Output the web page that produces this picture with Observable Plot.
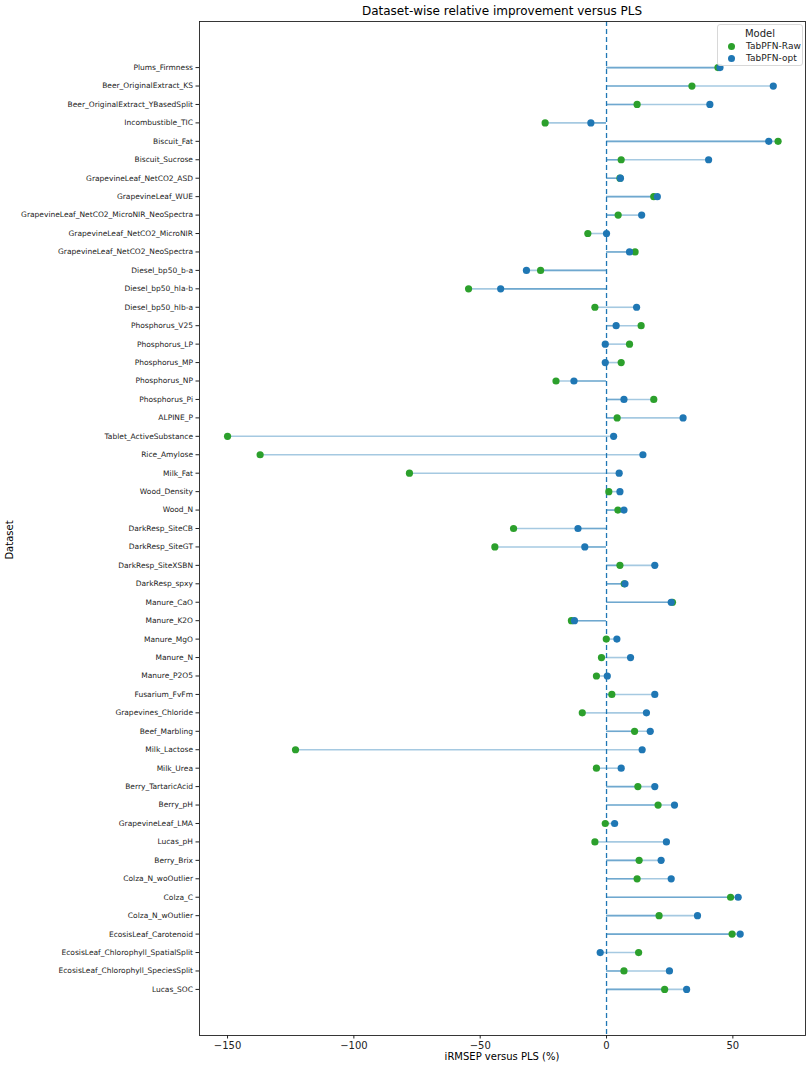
<!DOCTYPE html>
<html>
<head>
<meta charset="utf-8">
<script src="https://cdn.jsdelivr.net/npm/d3@7"></script>
<script src="https://cdn.jsdelivr.net/npm/@observablehq/plot@0.6"></script>
<style>
  html, body { margin: 0; padding: 0; background: #fff; font-family: "DejaVu Sans", sans-serif; overflow: hidden; }
  #wrap { position: relative; width: 812px; height: 1071px; }
  #chart svg { display: block; max-width: none; }
  #title { position: absolute; left: 199px; width: 606px; top: 4px; text-align: center; font-size: 12px; color: #000; }
  #legend { position: absolute; left: 717px; top: 24px; width: 84px; height: 40px; border: 1px solid #d8d8d8; border-radius: 3px; background: rgba(255,255,255,0.85); font-size: 9px; color: #222; }
  #legend .t { position: absolute; top: 3px; width: 100%; text-align: center; font-size: 10px; }
  #legend .e { position: absolute; left: 28px; }
  #legend .d { position: absolute; left: 10px; width: 7px; height: 7px; border-radius: 50%; }
  #ylab { position: absolute; top: 540px; transform: translate(0,-50%) rotate(-90deg); transform-origin: center; font-size: 10px; }
  #xlab { position: absolute; left: 199px; width: 606px; top: 1051px; text-align: center; font-size: 10px; }
</style>
</head>
<body>
<div id="wrap">
  <div id="chart"></div>
  <div id="title">Dataset-wise relative improvement versus PLS</div>
  <div id="xlab">iRMSEP versus PLS (%)</div>
  <div id="ylab" style="left:-10px;">Dataset</div>
  <div id="legend">
    <div class="t">Model</div>
    <div class="d" style="top:18px;background:#2ca02c"></div><div class="e" style="top:16px">TabPFN-Raw</div>
    <div class="d" style="top:30px;background:#1f77b4"></div><div class="e" style="top:28px">TabPFN-opt</div>
  </div>
</div>
<script>
const datasets = [
  "Plums_Firmness","Beer_OriginalExtract_KS","Beer_OriginalExtract_YBasedSplit","Incombustible_TIC",
  "Biscuit_Fat","Biscuit_Sucrose","GrapevineLeaf_NetCO2_ASD","GrapevineLeaf_WUE",
  "GrapevineLeaf_NetCO2_MicroNIR_NeoSpectra","GrapevineLeaf_NetCO2_MicroNIR","GrapevineLeaf_NetCO2_NeoSpectra",
  "Diesel_bp50_b-a","Diesel_bp50_hla-b","Diesel_bp50_hlb-a","Phosphorus_V25","Phosphorus_LP","Phosphorus_MP",
  "Phosphorus_NP","Phosphorus_Pi","ALPINE_P","Tablet_ActiveSubstance","Rice_Amylose","Milk_Fat","Wood_Density",
  "Wood_N","DarkResp_SiteCB","DarkResp_SiteGT","DarkResp_SiteXSBN","DarkResp_spxy","Manure_CaO","Manure_K2O",
  "Manure_MgO","Manure_N","Manure_P2O5","Fusarium_FvFm","Grapevines_Chloride","Beef_Marbling","Milk_Lactose",
  "Milk_Urea","Berry_TartaricAcid","Berry_pH","GrapevineLeaf_LMA","Lucas_pH","Berry_Brix","Colza_N_woOutlier",
  "Colza_C","Colza_N_wOutlier","EcosisLeaf_Carotenoid","EcosisLeaf_Chlorophyll_SpatialSplit",
  "EcosisLeaf_Chlorophyll_SpeciesSplit","Lucas_SOC"
];
const tabpfnRaw = [
  44.1, 33.8, 12.1, -24.3, 67.9, 5.8, 5.3, 18.7, 4.6, -7.4, 11.3,
  -26.1, -54.6, -4.6, 13.7, 9.1, 5.8, -20.0, 18.7, 4.2, -150.0, -137.1, -78.0, 0.9,
  4.5, -36.8, -44.2, 5.3, 7.0, 26.1, -13.9, -0.1, -2.0, -4.0, 2.1, -9.6, 11.1, -123.1,
  -4.0, 12.4, 20.4, -0.5, -4.6, 12.9, 12.1, 49.1, 20.8, 49.7, 12.7, 6.9, 23.0
];
const tabpfnOpt = [
  44.9, 66.0, 40.9, -6.2, 64.2, 40.4, 5.5, 20.1, 13.9, 0.0, 9.1,
  -31.7, -41.9, 11.9, 3.8, -0.5, -0.5, -12.9, 6.9, 30.3, 2.8, 14.4, 5.0, 5.3,
  6.9, -11.3, -8.6, 19.1, 7.3, 25.6, -12.7, 4.1, 9.5, 0.3, 19.1, 15.8, 17.3, 14.1,
  5.8, 19.1, 26.9, 3.2, 23.7, 21.6, 25.6, 52.1, 36.0, 52.9, -2.5, 24.9, 31.7
];
const models = ["TabPFN-Raw", "TabPFN-opt"];
const modelColors = ["#2ca02c", "#1f77b4"];
const xTicks = [-150, -100, -50, 0, 50];

const rows = datasets.map((d, i) => ({idx: i, dataset: d, raw: tabpfnRaw[i], opt: tabpfnOpt[i]}));
const long = [
  ...rows.map(r => ({idx: r.idx, model: models[0], value: r.raw})),
  ...rows.map(r => ({idx: r.idx, model: models[1], value: r.opt}))
];
const fmt = d => d < 0 ? "\u2212" + Math.abs(d) : String(d);

const chart = Plot.plot({
  width: 812,
  height: 1071,
  marginTop: 21,
  marginBottom: 36,
  marginLeft: 199,
  marginRight: 7,
  style: {fontFamily: "DejaVu Sans, sans-serif", fontSize: "7.5px", color: "#222", background: "#fff"},
  x: {domain: [-161.1, 78.75], ticks: xTicks, tickFormat: fmt, label: null, tickSize: 3.5},
  y: {type: "linear", domain: [52.5, -2.5], label: null},
  color: {domain: models, range: modelColors},
  marks: [
    Plot.ruleY(rows, {y: "idx", x1: 0, x2: "raw", stroke: "#1f77b4", strokeOpacity: 0.4, strokeWidth: 1.6}),
    Plot.ruleY(rows, {y: "idx", x1: 0, x2: "opt", stroke: "#1f77b4", strokeOpacity: 0.4, strokeWidth: 1.6}),
    Plot.ruleX([0], {stroke: "#1f77b4", strokeDasharray: "5,3", strokeWidth: 1.3}),
    Plot.dot(long, {x: "value", y: "idx", fill: "model", r: 3.6, stroke: "none"}),
    Plot.axisX({ticks: xTicks, tickFormat: fmt, tickSize: 3.5, fontSize: 10, label: null, tickPadding: 3}),
    Plot.axisY({ticks: d3.range(datasets.length), tickFormat: i => datasets[i], tickSize: 3.5, fontSize: 7.5, label: null, tickPadding: 3}),
    Plot.frame({stroke: "#222", strokeWidth: 0.9})
  ]
});
document.getElementById("chart").appendChild(chart);
</script>
</body>
</html>
